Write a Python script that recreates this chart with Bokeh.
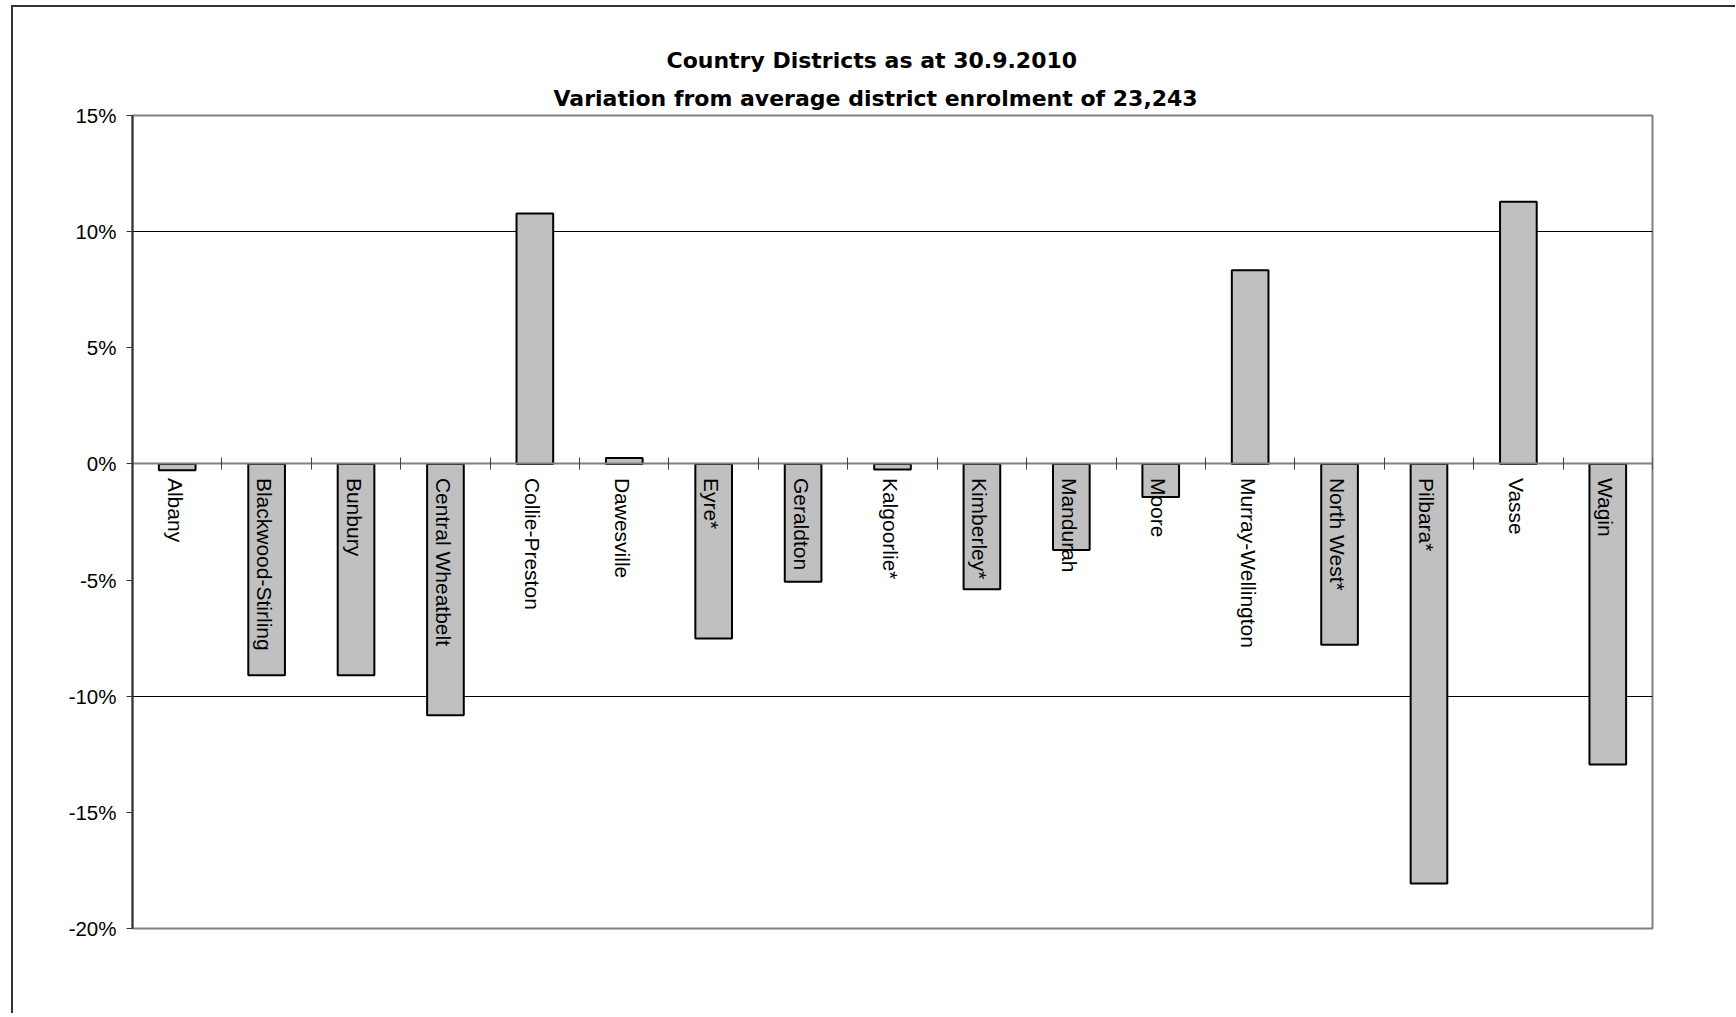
from bokeh.plotting import figure
from bokeh.models import Range1d, LinearAxis, FixedTicker, PrintfTickFormatter, Title, ColumnDataSource
from bokeh.core.properties import value
from bokeh.embed import file_html
from bokeh.resources import INLINE

districts = ["Albany", "Blackwood-Stirling", "Bunbury", "Central Wheatbelt", "Collie-Preston",
             "Dawesville", "Eyre*", "Geraldton", "Kalgoorlie*", "Kimberley*", "Mandurah", "Moore",
             "Murray-Wellington", "North West*", "Pilbara*", "Vasse", "Wagin"]
variation_pct = [-0.27, -9.10, -9.10, -10.82, 10.78, 0.26, -7.52, -5.07, -0.24, -5.40, -3.71,
                 -1.42, 8.34, -7.78, -18.06, 11.29, -12.94]
y_ticks = [-20, -15, -10, -5, 0, 5, 10, 15]
grid_values = [-10, 10]
title_line1 = "Country Districts  as at 30.9.2010"
title_line2 = "Variation from average district enrolment of 23,243"

n = len(districts)
centers = [i + 0.5 for i in range(n)]
src = ColumnDataSource(dict(x=centers, top=variation_pct, name=districts))

p = figure(frame_width=1520, frame_height=813, title=None,
           x_range=Range1d(0, n), y_range=Range1d(min(y_ticks), max(y_ticks)),
           x_axis_location=None, output_backend="svg", toolbar_location=None,
           min_border_left=119, min_border_top=108, min_border_right=83, min_border_bottom=85,
           background_fill_color="white", border_fill_color="white")

p.styles = {"border-left": "2px solid #333333", "border-top": "2px solid #333333",
            "margin-left": "11px", "margin-top": "5px"}

p.outline_line_color = "#808080"
p.outline_line_width = 2

# grid
p.xgrid.visible = False
p.ygrid.ticker = FixedTicker(ticks=grid_values)
p.ygrid.grid_line_color = "black"
p.ygrid.grid_line_width = 1

# y axis
ya = p.yaxis[0]
ya.ticker = FixedTicker(ticks=y_ticks)
ya.formatter = PrintfTickFormatter(format="%d%%")
ya.axis_line_color = "#333333"
ya.axis_line_width = 2
ya.major_tick_out = 6
ya.major_tick_in = 0
ya.minor_tick_out = 0
ya.minor_tick_in = 0
ya.major_tick_line_color = "#333333"
ya.major_label_standoff = 10
ya.major_label_text_font = "Liberation Sans"
ya.major_label_text_font_size = "20.5px"
ya.major_label_text_color = "black"

# category axis at zero with boundary ticks
xa = LinearAxis(fixed_location=0, ticker=FixedTicker(ticks=list(range(0, n + 1))))
xa.major_label_overrides = {i: "" for i in range(0, n + 1)}
xa.axis_line_color = "#808080"
xa.axis_line_width = 2
xa.major_tick_in = 6
xa.major_tick_out = 6
xa.minor_tick_in = 0
xa.minor_tick_out = 0
xa.major_tick_line_color = "#404040"
p.add_layout(xa, "below")

# bars
p.vbar(x="x", top="top", bottom=0, width=0.41, source=src,
       fill_color="#C0C0C0", line_color="black", line_width=2)

# category labels
p.text(x="x", y=0, text="name", source=src, angle=-1.5707963267948966,
       x_offset=-2, y_offset=14, text_align="left", text_baseline="middle",
       text_font=value("Liberation Sans"), text_font_size="21px", text_color="black")

# titles (first added is closest to plot)
p.add_layout(Title(text=title_line2, align="left", offset=421, standoff=10,
                   text_font="DejaVu Sans", text_font_size="22px", text_font_style="bold",
                   text_color="black"), "above")
p.add_layout(Title(text=title_line1, align="left", offset=534, standoff=12,
                   text_font="DejaVu Sans", text_font_size="22px", text_font_style="bold",
                   text_color="black"), "above")

open("out.html", "w").write(file_html(p, INLINE))
